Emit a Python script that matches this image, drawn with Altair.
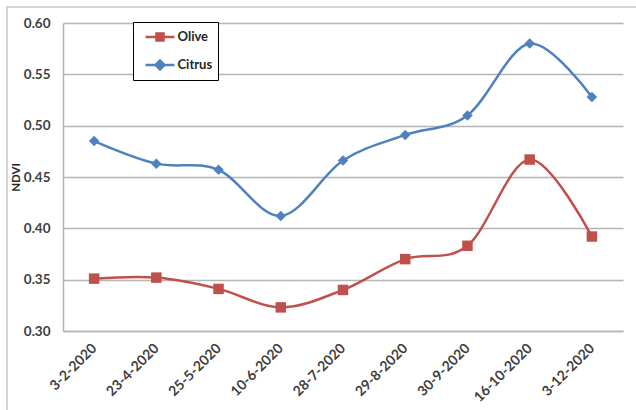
import altair as alt
import pandas as pd

# Sampling dates and mean NDVI per crop
dates = ["3-2-2020", "23-4-2020", "25-5-2020", "10-6-2020", "28-7-2020",
         "29-8-2020", "30-9-2020", "16-10-2020", "3-12-2020"]
olive = [0.351, 0.352, 0.341, 0.323, 0.340, 0.370, 0.383, 0.467, 0.392]
citrus = [0.485, 0.463, 0.457, 0.412, 0.466, 0.491, 0.510, 0.580, 0.528]
series_names = ["Olive", "Citrus"]
series_colors = ["#C0504D", "#4F81BD"]
y_ticks = [0.30, 0.35, 0.40, 0.45, 0.50, 0.55, 0.60]

df = pd.DataFrame({
    "date": dates * 2,
    "ndvi": olive + citrus,
    "series": ["Olive"] * len(dates) + ["Citrus"] * len(dates),
})

FONT = "Lato"
GRID = "#b5b5b5"

color_scale = alt.Scale(domain=series_names, range=series_colors)

# legend glyphs: a short line with the marker in the middle (shifted right of the symbol box)
legend_shapes = [
    "M-0.31,0H3.31M1.06,-0.44H1.94V0.44H1.06Z",
    "M-0.31,0H3.31M1.5,-0.56L2.06,0L1.5,0.56L0.94,0Z",
]

x_enc = alt.X(
    "date:N", sort=dates, scale=alt.Scale(type="point", padding=0.5),
    axis=alt.Axis(title=None, labelAngle=-45, labelAlign="right", labelBaseline="middle",
                  labelPadding=15, ticks=False, domainColor=GRID, domainWidth=1.5,
                  labelFont=FONT, labelFontSize=14, labelFontWeight="bold", labelColor="#404040"),
)
y_enc = alt.Y(
    "ndvi:Q", scale=alt.Scale(domain=[0.30, 0.60], zero=False, nice=False),
    axis=alt.Axis(title="NDVI", values=y_ticks, format=".2f", grid=True, gridColor=GRID,
                  gridWidth=1.5, domainColor=GRID, domainWidth=1.5, ticks=False,
                  labelPadding=13, labelFont=FONT, labelFontSize=13.5, labelFontWeight="bold",
                  labelColor="#404040", titleFont=FONT, titleFontSize=11.5,
                  titleFontWeight="bold", titleColor="#262626", titlePadding=2),
)

base = alt.Chart(df)

lines = base.mark_line(interpolate="cardinal", tension=0, strokeWidth=2.5).encode(
    x=x_enc, y=y_enc,
    color=alt.Color("series:N", scale=color_scale, legend=None),
    detail="series:N",
)

points = base.mark_point(filled=True, opacity=1, size=110).encode(
    x=x_enc, y=y_enc,
    color=alt.Color("series:N", scale=color_scale, legend=None),
    shape=alt.condition(alt.datum.series == "Olive", alt.value("square"), alt.value("diamond")),
)

legend = alt.Legend(
    title=None, orient="none", legendX=70, legendY=-1, strokeColor="black",
    fillColor="white", padding=5.5, symbolSize=256, symbolStrokeWidth=2.5,
    symbolOpacity=1, labelFont=FONT, labelFontSize=13, labelFontWeight="bold",
    labelColor="#262626", rowPadding=9, labelOffset=20,
)

legend_layer = base.mark_point(filled=True, opacity=0).encode(
    x=x_enc, y=y_enc,
    color=alt.Color("series:N", scale=color_scale, legend=legend, sort=series_names),
    stroke=alt.Stroke("series:N", scale=color_scale, legend=legend, sort=series_names),
    shape=alt.Shape("series:N", scale=alt.Scale(domain=series_names, range=legend_shapes),
                    legend=legend, sort=series_names),
)

frame = alt.Chart(pd.DataFrame({"k": [0]})).mark_rect(
    fill="transparent", stroke="#d4d4d4", strokeWidth=2
).encode(x=alt.value(-56), x2=alt.value(590), y=alt.value(-16), y2=alt.value(420))

chart = alt.layer(frame, lines, points, legend_layer).resolve_legend(
    color="independent", stroke="independent", shape="independent"
).properties(
    width=560, height=308,
    padding={"left": 63, "top": 23, "right": 13, "bottom": 79},
    autosize=alt.AutoSizeParams(type="none"),
    background="white",
).configure_view(stroke=None)

chart.save("out.html", embed_options={"renderer": "svg", "actions": False})
